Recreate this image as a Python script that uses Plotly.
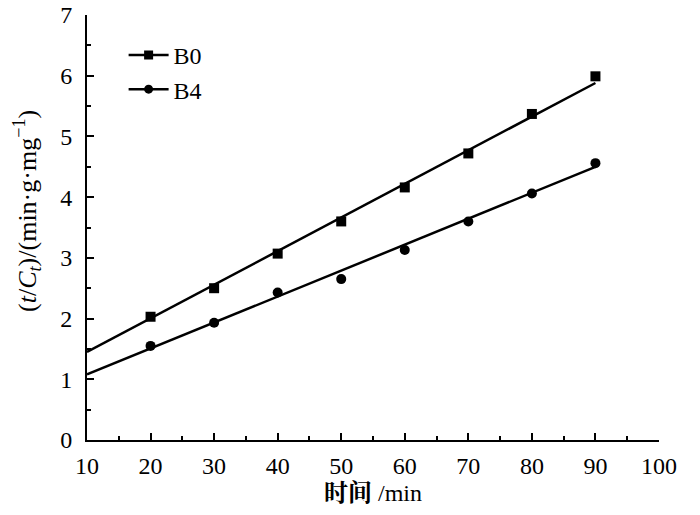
import plotly.graph_objects as go

time_min = [20, 30, 40, 50, 60, 70, 80, 90]
b0_vals = [2.03, 2.50, 3.07, 3.60, 4.16, 4.72, 5.37, 5.99]
b4_vals = [1.55, 1.93, 2.43, 2.65, 3.13, 3.60, 4.06, 4.56]
fit_x = [10, 90]
b0_fit = [1.45, 5.88]
b4_fit = [1.08, 4.50]
series_names = ["B0", "B4"]

x_ticks = [10, 20, 30, 40, 50, 60, 70, 80, 90, 100]
y_ticks = [0, 1, 2, 3, 4, 5, 6, 7]

FONT = "Liberation Serif, Times New Roman, Noto Serif CJK SC, Noto Sans CJK SC, serif"
FS = 24
fig = go.Figure()

symbols = ["square", "circle"]
for name, vals, fit, sym in zip(series_names, [b0_vals, b4_vals], [b0_fit, b4_fit], symbols):
    fig.add_trace(go.Scatter(x=fit_x, y=fit, mode="lines",
                             line=dict(color="black", width=2.5),
                             showlegend=False, hoverinfo="skip"))
    fig.add_trace(go.Scatter(x=time_min, y=vals, mode="markers",
                             marker=dict(symbol=sym, size=10, color="black"),
                             showlegend=False, name=name))
    fig.add_trace(go.Scatter(x=[None], y=[None], mode="lines+markers", name=name,
                             line=dict(color="black", width=2.5),
                             marker=dict(symbol=sym, size=9, color="black")))

axis_common = dict(
    showline=True, linecolor="black", linewidth=2,
    ticks="inside", ticklen=7, tickwidth=2, tickcolor="black",
    showgrid=False, zeroline=False, automargin=False,
    tickfont=dict(family=FONT, size=FS, color="black"),
)

fig.update_xaxes(range=[10, 100], tickvals=x_ticks,
                 minor=dict(ticks="inside", ticklen=4, tickwidth=2, dtick=5, tickcolor="black", showgrid=False),
                 title=dict(text="<b>时间</b> /min", font=dict(family=FONT, size=FS, color="black"), standoff=6),
                 ticklabelstandoff=3,
                 **axis_common)
fig.update_yaxes(range=[0, 7], tickvals=y_ticks,
                 minor=dict(ticks="inside", ticklen=4, tickwidth=2, dtick=0.5, tickcolor="black", showgrid=False),
                 ticklabelstandoff=8,
                 **axis_common)

fig.add_annotation(
    text="(<i>t</i>/<i>C</i><sub><i>t</i></sub>)/(min·g·mg<sup>−1</sup>)",
    xref="paper", yref="paper", x=-0.1049, y=0.539,
    xanchor="center", yanchor="middle", textangle=-90, showarrow=False,
    font=dict(family=FONT, size=26, color="black"),
)

fig.update_layout(
    width=700, height=515,
    margin=dict(l=87, r=41, t=15, b=75),
    plot_bgcolor="white", paper_bgcolor="white",
    font=dict(family=FONT, size=FS, color="black"),
    legend=dict(x=0.064, y=0.958, xanchor="left", yanchor="top",
                bgcolor="rgba(0,0,0,0)", font=dict(family=FONT, size=FS, color="black"),
                tracegroupgap=0, itemwidth=40),
)

fig.write_html("out.html", config={"displayModeBar": False},
               post_script="document.body.style.margin='0px';")
